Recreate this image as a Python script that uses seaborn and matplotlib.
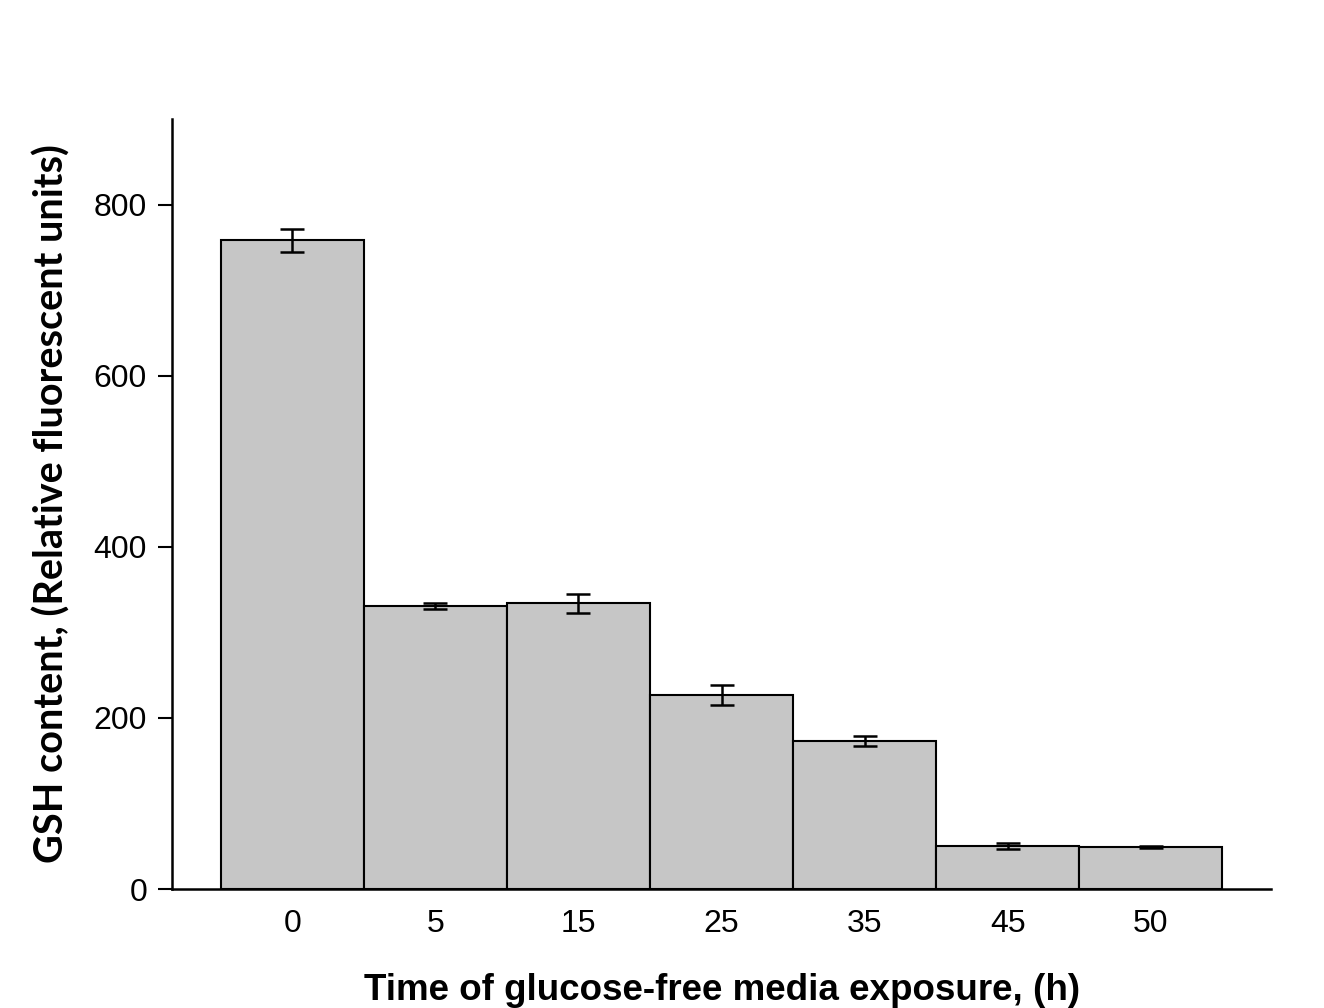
import numpy as np
import pandas as pd
import matplotlib
matplotlib.use("Agg")
import matplotlib.pyplot as plt
import seaborn as sns

# GSH content vs time in glucose-free media
hours = ["0", "5", "15", "25", "35", "45", "50"]
gsh = [758, 331, 334, 227, 173, 50, 49]
gsh_err = [13, 3.5, 11, 12, 5.5, 3.5, 1]

df = pd.DataFrame({"Hours": hours, "GSH": gsh})

sns.set_theme(style="ticks")
plt.rcParams["font.family"] = ["Liberation Sans", "DejaVu Sans"]

fig = plt.figure(figsize=(13.24, 10.08), dpi=100)
ax = fig.add_axes([0.13, 0.118, 0.83, 0.764])

sns.barplot(data=df, x="Hours", y="GSH", order=hours, color="#C6C6C6",
            saturation=1, width=1.0, edgecolor="black", linewidth=1.5,
            errorbar=None, ax=ax)
ax.errorbar(x=np.arange(len(hours)), y=gsh, yerr=gsh_err, fmt="none",
            ecolor="black", elinewidth=1.8, capsize=8.5, capthick=1.8)

ax.set_xlim(-0.84, 6.84)
ax.set_ylim(0, 900)
ax.set_yticks([0, 200, 400, 600, 800])
ax.tick_params(axis="y", direction="out", length=10, width=1.5, labelsize=23, pad=8, colors="black")
ax.tick_params(axis="x", length=0, labelsize=23, pad=14, colors="black")

sns.despine(ax=ax)
for sp in ["left", "bottom"]:
    ax.spines[sp].set_linewidth(1.8)
    ax.spines[sp].set_color("black")

ax.set_xlabel("Time of glucose-free media exposure, (h)", fontsize=26.5,
              fontweight="bold", labelpad=25, color="black")
ax.set_ylabel("GSH content, (Relative fluorescent units)", fontsize=28.5,
              fontweight="bold", labelpad=17, color="black",
              family=["Lato", "DejaVu Sans"])

fig.savefig("out.png", dpi=100, facecolor="white")
